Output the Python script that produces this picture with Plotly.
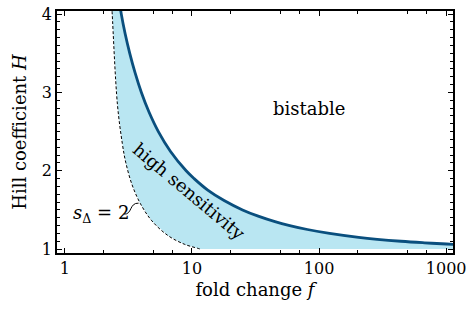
import plotly.graph_objects as go
import math

# Bistability boundary (thick blue curve)
f_bistable = [2.72, 2.78, 2.98, 3.24, 3.57, 4.0, 4.59, 5.44, 6.76, 9.0, 10.4, 13.4,
              17.9, 25.0, 33.2, 45.0, 58.8, 81.0, 121.0, 205.0, 441.0, 676.0, 1009.0, 1180.0]
H_bistable = [4.1, 4.0, 3.75, 3.5, 3.25, 3.0, 2.75, 2.5, 2.25, 2.0, 1.9, 1.75,
              1.62, 1.5, 1.42, 1.35, 1.3, 1.25, 1.2, 1.15, 1.1, 1.08, 1.065, 1.06]

# s_Delta = 2 contour (dashed curve)
f_s2 = [2.34, 2.36, 2.59, 2.83, 3.01, 3.38, 3.93, 4.84, 6.51, 8.78, 11.1, 11.6]
H_s2 = [4.1, 3.99, 2.85, 2.35, 2.11, 1.82, 1.58, 1.36, 1.17, 1.06, 1.01, 1.0]

H_floor = 1.0

x_ticks = [1, 10, 100, 1000]
x_ticklabels = ["1", "10", "100", "1000"]
x_minor = [m * 10 ** d for d in range(0, 4) for m in (2, 5, 7)]
y_ticks = [1, 2, 3, 4]

FONT = "DejaVu Serif"
FS = 18
TFS = 16
BLUE = "#0a4f7e"
FILL = "#b9e6f2"

fig = go.Figure()

# shaded high-sensitivity region
fill_x = f_bistable + [f_bistable[-1]] + f_s2[::-1]
fill_y = H_bistable + [H_floor] + H_s2[::-1]
fig.add_trace(go.Scatter(x=fill_x, y=fill_y, mode="lines", fill="toself",
                         fillcolor=FILL, line=dict(width=0), hoverinfo="skip"))

fig.add_trace(go.Scatter(x=f_s2, y=H_s2, mode="lines",
                         line=dict(color="black", width=1, dash="3px,2px", shape="spline")))
fig.add_trace(go.Scatter(x=f_bistable, y=H_bistable, mode="lines",
                         line=dict(color=BLUE, width=2.8, shape="spline")))

axis_common = dict(showgrid=False, zeroline=False, showline=True, linecolor="black",
                   linewidth=1.5, mirror="ticks", ticks="inside", tickcolor="black",
                   tickwidth=1.2, ticklabeloverflow="allow",
                   tickfont=dict(family=FONT, size=TFS, color="black"))

fig.update_xaxes(type="log", range=[-0.062, 3.054], tickvals=x_ticks, ticktext=x_ticklabels,
                 ticklen=5,
                 minor=dict(tickmode="array", tickvals=x_minor, ticks="inside", ticklen=3,
                            tickcolor="black", tickwidth=1, showgrid=False),
                 title=dict(text="fold change <i>f</i>", font=dict(family=FONT, size=FS, color="black"),
                            standoff=6),
                 **axis_common)
fig.update_yaxes(range=[0.95, 4.04], tickvals=y_ticks, ticklen=5,
                 minor=dict(dtick=0.1, ticks="inside", ticklen=3, tickcolor="black",
                            tickwidth=1, showgrid=False),
                 title=dict(text="Hill coefficient <i>H</i>", font=dict(family=FONT, size=FS, color="black"),
                            standoff=11),
                 **axis_common)

ann_font = dict(family=FONT, size=FS, color="black")
fig.add_annotation(x=math.log10(83), y=2.80, text="bistable", showarrow=False, font=ann_font)
fig.add_annotation(x=math.log10(9.5), y=1.73, text="high sensitivity", showarrow=False,
                   textangle=40, font=ann_font)
fig.add_annotation(x=math.log10(1.92), y=1.45, text="<i>s</i><sub>Δ</sub> = 2", showarrow=False,
                   font=ann_font)

fig.add_shape(type="path", xref="paper", yref="paper",
              path="M 0.169,0.161 C 0.190,0.157 0.182,0.208 0.206,0.206",
              line=dict(color="black", width=1))

fig.update_layout(width=471, height=316, margin=dict(l=57, r=12, t=5, b=63),
                  paper_bgcolor="white", plot_bgcolor="white", showlegend=False,
                  font=dict(family=FONT, size=FS, color="black"))

fig.write_html("out.html", config={"displayModeBar": False},
               post_script="document.body.style.margin='0';document.body.style.overflow='hidden';")
